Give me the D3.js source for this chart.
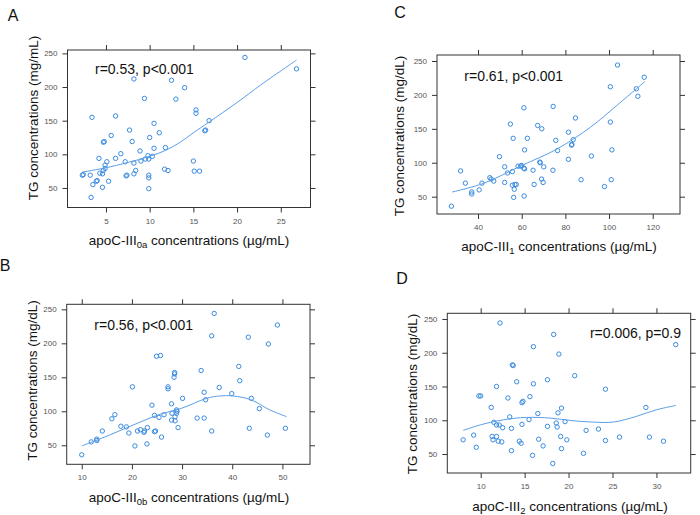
<!DOCTYPE html>
<html>
<head>
<meta charset="utf-8">
<script src="https://cdn.jsdelivr.net/npm/d3@7"></script>
<style>
  html, body { margin: 0; padding: 0; background: #fff; }
  svg { display: block; font-family: "Liberation Sans", Arial, sans-serif; }
</style>
</head>
<body>
<svg id="chart" width="700" height="515"></svg>
<script>
// ---------- DATA ----------
// Panel A: apoC-III0a vs TG
const aX = [20.9,26.8,8.2,12.5,14.0,9.4,13.0,15.3,15.3,3.4,6.1,10.5,16.8,16.4,16.3,7.7,11.1,5.6,10.0,4.8,4.7,8.0,10.5,11.8,8.9,6.7,4.2,6.1,5.1,7.2,8.2,9.0,9.5,9.9,10.3,9.8,15.0,4.9,4.7,4.9,4.3,4.6,3.9,3.5,4.6,5.3,3.3,2.3,2.4,3.2,7.3,7.4,8.2,8.4,9.9,9.9,9.9,11.7,12.1,15.1,15.7,4.0];
const aY = [244,227,212,210,199,183,182,166,161,155,157,146,150,136,135,136,132,128,125,119,118,119,109,110,105,101,94,94,89,89,87,90,93,93,97,98,90,84,76,79,72,71,60,55,51,60,36,69,70,69,68,69,71,76,69,65,49,78,76,75,75,61];
const aFitX = [2.3,5,7.4,10,12,13.5,15,16.8,20,22.7,26.8];
const aFitY = [73.6,80,87.5,97,107,118,132,148,177,203,240];

// Panel C: apoC-III1 vs TG
const cX = [103.9,116.1,100.6,112.5,113.2,61.0,74.4,84.6,54.8,67.3,69.2,81.4,100.6,56.1,62.6,83.6,75.6,61.3,101.3,76.4,82.8,83.0,49.8,81.4,91.9,68.3,58.3,60.0,52.2,61.0,61.3,53.5,55.7,65.2,70.1,74.3,32.0,45.4,47.2,41.8,52.2,65.7,69.1,69.8,34.2,37.1,37.1,40.5,55.7,56.9,56.6,56.3,61.1,87.2,97.9,101.0,27.8,46.0,57.5,68.5,59.5];
const cY = [244,226,212,209,198,181,183,166,157,155,150,145,160,136,136,134,133,119,119,118,126,127,109,105,110,101,95,96,94,92,91,85,87,89,94,89,88,78,73,70,71,68,76,71,70,57,54,60,67,68,61,49,51,75,65,75,36,76,68,100,95];
const cFitX = [28.1,42.6,59.7,76.1,91.4,103.5,116.5];
const cFitY = [56.9,69.8,95.5,120.1,152.2,184.3,219.9];

// Panel B: apoC-III0b vs TG
const bX = [36.4,49.0,35.9,43.2,47.2,24.9,25.7,33.8,41.3,41.5,28.5,28.5,28.4,20.1,27.2,27.2,37.4,34.4,39.9,43.8,30.1,34.7,24.0,27.9,28.9,29.0,28.9,28.0,45.4,16.6,16.0,24.5,25.4,26.4,28.6,27.9,28.6,29.2,33.0,34.4,17.8,18.9,14.1,19.4,21.1,21.7,22.4,22.5,23.1,24.5,24.7,25.9,20.6,23.0,35.9,43.4,47.0,50.6,11.9,13.0,13.0,10.0];
const bY = [244,227,211,209,199,181,182,160,166,145,157,155,150,136,136,133,135,128,126,119,119,117,109,111,102,100,97,97,104,95,89,94,91,95,92,87,86,76,90,90,78,77,71,68,71,73,69,71,76,70,71,62,49,52,71,75,65,75,55,59,57,36];
const bFitX = [10,15.6,20,25.6,29.9,34.9,37.5,40.2,43.8,47.5,50.8];
const bFitY = [49,65.2,79,95.6,104.4,119.1,122.5,122.5,116.7,102,92.2];

// Panel D: apoC-III2 vs TG
const dX = [12.2,18.3,16.0,32.2,18.9,13.6,13.7,20.7,11.8,14.1,16.0,17.6,24.2,9.8,10.0,13.1,15.6,14.8,14.7,11.2,28.8,19.2,16.5,18.8,13.3,15.5,11.5,11.8,12.1,12.5,13.5,14.7,18.6,18.7,19.6,17.6,22.0,23.4,8.0,9.2,9.5,11.3,11.8,11.4,12.0,12.4,13.5,14.4,14.6,16.6,15.9,17.1,18.2,19.1,19.2,19.8,21.7,24.2,25.8,29.2,30.8];
const dY = [244,227,209,212,198,182,181,166,150,157,154,160,146,136,136,133,135,128,126,119,119,118,110,111,105,101,97,93,93,89,88,94,96,90,98,91,85,87,71,78,60,76,76,71,69,68,55,69,66,72,48,62,36,76,58,71,51,70,75,75,69];
const dFitX = [8.0,10,12.6,15.2,17.9,20.5,22.8,25.1,27.7,30,32.2];
const dFitY = [85,93.3,100.7,104.2,103.2,99.3,97.3,97.3,105.7,115.5,121.9];

// Tick values
const yTicks = [50,100,150,200,250];
const aXTicks = [5,10,15,20,25];
const cXTicks = [40,60,80,100,120];
const bXTicks = [10,20,30,40,50];
const dXTicks = [10,15,20,25,30];

// ---------- DRAW ----------
const svg = d3.select("#chart");
const ptColor = "#3a8be0";
const lineColor = "#5a9fe8";
const axColor = "#333";

function panel(cfg) {
  const g = svg.append("g");
  const x = d3.scaleLinear().domain(cfg.xDom).range([cfg.box.l, cfg.box.r]);
  const y = d3.scaleLinear().domain(cfg.yDom).range([cfg.box.b, cfg.box.t]);
  const tl = 5;

  const axB = g.append("g").attr("transform", `translate(0,${cfg.box.b})`)
    .call(d3.axisBottom(x).tickValues(cfg.xTicks).tickSize(tl).tickPadding(4));
  const axT = g.append("g").attr("transform", `translate(0,${cfg.box.t})`)
    .call(d3.axisTop(x).tickValues(cfg.xTicks).tickSize(tl).tickFormat(""));
  const axL = g.append("g").attr("transform", `translate(${cfg.box.l},0)`)
    .call(d3.axisLeft(y).tickValues(yTicks).tickSize(tl).tickPadding(5));
  const axR = g.append("g").attr("transform", `translate(${cfg.box.r},0)`)
    .call(d3.axisRight(y).tickValues(yTicks).tickSize(tl).tickFormat(""));
  [axB, axT, axL, axR].forEach(a => {
    a.select(".domain").remove();
    a.selectAll(".tick line").attr("stroke", axColor).attr("stroke-width", 1);
    a.selectAll(".tick text").attr("fill", "#555").attr("font-size", 8)
      .attr("font-family", "Liberation Sans, Arial, sans-serif");
  });
  axB.selectAll(".tick text").attr("dy", "0.9em");

  g.append("rect")
    .attr("x", cfg.box.l).attr("y", cfg.box.t)
    .attr("width", cfg.box.r - cfg.box.l).attr("height", cfg.box.b - cfg.box.t)
    .attr("fill", "none").attr("stroke", axColor).attr("stroke-width", 1);

  g.append("g").selectAll("circle")
    .data(d3.zip(cfg.xs, cfg.ys))
    .join("circle")
    .attr("cx", d => x(d[0])).attr("cy", d => y(d[1]))
    .attr("r", 2.2)
    .attr("fill", "none").attr("stroke", ptColor).attr("stroke-width", 1);

  const line = d3.line().curve(d3.curveCatmullRom.alpha(0.5)).x(d => x(d[0])).y(d => y(d[1]));
  g.append("path").datum(d3.zip(cfg.fx, cfg.fy))
    .attr("d", line).attr("fill", "none")
    .attr("stroke", lineColor).attr("stroke-width", 1);

  g.append("text").attr("x", cfg.ann.x).attr("y", cfg.ann.y)
    .attr("text-anchor", cfg.ann.anchor).attr("dominant-baseline", "central")
    .attr("font-size", 14).attr("fill", "#111").text(cfg.ann.text);

  g.append("text")
    .attr("transform", `translate(${cfg.yl.x},${cfg.yl.y}) rotate(-90)`)
    .attr("text-anchor", "middle").attr("dominant-baseline", "central")
    .attr("font-size", 13.5).attr("fill", "#111").text(cfg.yl.text);

  const xl = g.append("text").attr("x", cfg.xl.x).attr("y", cfg.xl.y)
    .attr("text-anchor", "middle").attr("dominant-baseline", "central")
    .attr("font-size", 13.5).attr("fill", "#111");
  xl.append("tspan").text("apoC-III");
  xl.append("tspan").attr("font-size", 9.5).attr("dy", 4).text(cfg.xl.sub);
  xl.append("tspan").attr("dy", -4).text(" concentrations (\u00b5g/mL)");

  g.append("text").attr("x", cfg.letter.x).attr("y", cfg.letter.y)
    .attr("text-anchor", "middle").attr("dominant-baseline", "central")
    .attr("font-size", 16).attr("fill", "#111").text(cfg.letter.t);
}

panel({
  box: {l: 67.5, r: 310.5, t: 50, b: 207.5},
  xDom: [0.6, 28.4], yDom: [21, 255], xTicks: aXTicks,
  xs: aX, ys: aY, fx: aFitX, fy: aFitY,
  ann: {x: 95, y: 69, anchor: "start", text: "r=0.53, p<0.001"},
  yl: {x: 33, y: 118, text: "TG concentrations (mg/mL)"},
  xl: {x: 189, y: 240, sub: "0a"},
  letter: {x: 13, y: 15, t: "A"}
});
panel({
  box: {l: 437, r: 680, t: 55, b: 214},
  xDom: [21.2, 132.5], yDom: [24.5, 258.8], xTicks: cXTicks,
  xs: cX, ys: cY, fx: cFitX, fy: cFitY,
  ann: {x: 464.3, y: 76, anchor: "start", text: "r=0.61, p<0.001"},
  yl: {x: 399, y: 136, text: "TG concentrations (mg/dL)"},
  xl: {x: 559, y: 246, sub: "1"},
  letter: {x: 400, y: 12, t: "C"}
});
panel({
  box: {l: 66.7, r: 310, t: 304.3, b: 464.3},
  xDom: [7.0, 55.5], yDom: [22, 257.4], xTicks: bXTicks,
  xs: bX, ys: bY, fx: bFitX, fy: bFitY,
  ann: {x: 94.3, y: 325, anchor: "start", text: "r=0.56, p<0.001"},
  yl: {x: 32, y: 380.5, text: "TG concentrations (mg/dL)"},
  xl: {x: 189, y: 496.5, sub: "0b"},
  letter: {x: 5, y: 265, t: "B"}
});
panel({
  box: {l: 447.3, r: 690.7, t: 313.3, b: 473},
  xDom: [6.2, 33.9], yDom: [21.9, 258.4], xTicks: dXTicks,
  xs: dX, ys: dY, fx: dFitX, fy: dFitY,
  ann: {x: 681, y: 333.3, anchor: "end", text: "r=0.006, p=0.9"},
  yl: {x: 412, y: 394, text: "TG concentrations (mg/dL)"},
  xl: {x: 570, y: 506, sub: "2"},
  letter: {x: 402, y: 278, t: "D"}
});
</script>
</body>
</html>
